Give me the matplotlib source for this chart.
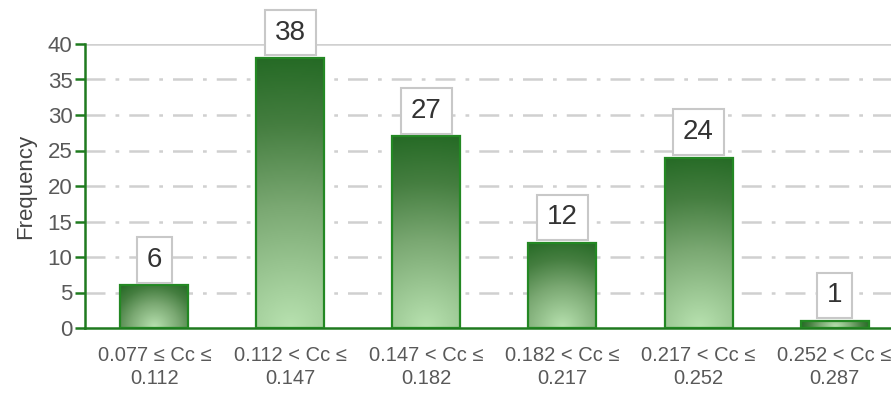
import numpy as np
import matplotlib
matplotlib.use("Agg")
import matplotlib.pyplot as plt
from matplotlib.colors import LinearSegmentedColormap

categories = ["0.077 ≤ Cc ≤\n0.112", "0.112 < Cc ≤\n0.147", "0.147 < Cc ≤\n0.182",
              "0.182 < Cc ≤\n0.217", "0.217 < Cc ≤\n0.252", "0.252 < Cc ≤\n0.287"]
frequency = [6, 38, 27, 12, 24, 1]
yticks = [0, 5, 10, 15, 20, 25, 30, 35, 40]

plt.rcParams['font.family'] = ['Liberation Sans', 'DejaVu Sans']

W, H = 891, 403
fig = plt.figure(figsize=(W/100, H/100), dpi=100)
ax = fig.add_axes([85/W, 1-328/H, 1-85/W, (328-44)/H])
ax.set_ylim(0, 40)
ax.set_xlim(-0.51, 5.415)

x = np.arange(len(categories))
bars = ax.bar(x, frequency, width=0.5, facecolor='none', edgecolor='#238823', linewidth=1.6, zorder=3)

cmap = LinearSegmentedColormap.from_list('g', [(0, '#b8e2b0'), (0.45, '#7aa872'), (0.75, '#457e40'), (1, '#256a25')])
px_per_x = (W - 85) / (5.415 + 0.51)
px_per_y = (328 - 44) / 40.0
for b in bars:
    x0, y0 = b.get_x(), b.get_y()
    w, h = b.get_width(), b.get_height()
    wp, hp = w * px_per_x, h * px_per_y
    nx, ny = 80, max(int(hp), 10)
    U, V = np.meshgrid(np.linspace(-wp/2, wp/2, nx), np.linspace(0, hp, ny))
    D = np.sqrt(U**2 + V**2) / np.sqrt((wp/2)**2 + hp**2)
    im = ax.imshow(D, origin='lower', extent=[x0, x0+w, y0, y0+h], cmap=cmap,
                   vmin=0, vmax=1, aspect='auto', zorder=2, interpolation='bilinear')
    im.set_clip_path(b)

for xi, val in zip(x, frequency):
    ax.annotate(str(val), xy=(xi, val), xytext=(0, 9), textcoords='offset points',
                ha='center', va='bottom', fontsize=20, color='#333333',
                bbox=dict(boxstyle='square,pad=0.35', fc='white', ec='#c8c8c8', lw=1.5),
                zorder=5, annotation_clip=False)

ax.set_yticks(yticks)
for t in yticks[1:-1]:
    ax.axhline(t, color='#d0d0d0', lw=1.8, linestyle=(0, (8, 4, 1.5, 4)), zorder=1)
ax.axhline(40, color='#d0d0d0', lw=1.8, zorder=1)

ax.set_xticks(x)
ax.set_xticklabels(categories, fontsize=14.5, color='#595959', linespacing=1.25)
ax.tick_params(axis='x', length=0, pad=13)
ax.tick_params(axis='y', labelsize=16, labelcolor='#595959', color='#1f7a1f', length=7, width=1.8, direction='out', pad=2)
for s in ['top', 'right']:
    ax.spines[s].set_visible(False)
for s in ['left', 'bottom']:
    ax.spines[s].set_color('#1f7a1f')
    ax.spines[s].set_linewidth(1.8)
ax.set_ylabel('Frequency', fontsize=16, color='#444444', labelpad=8)

fig.savefig('out.png', dpi=100)
